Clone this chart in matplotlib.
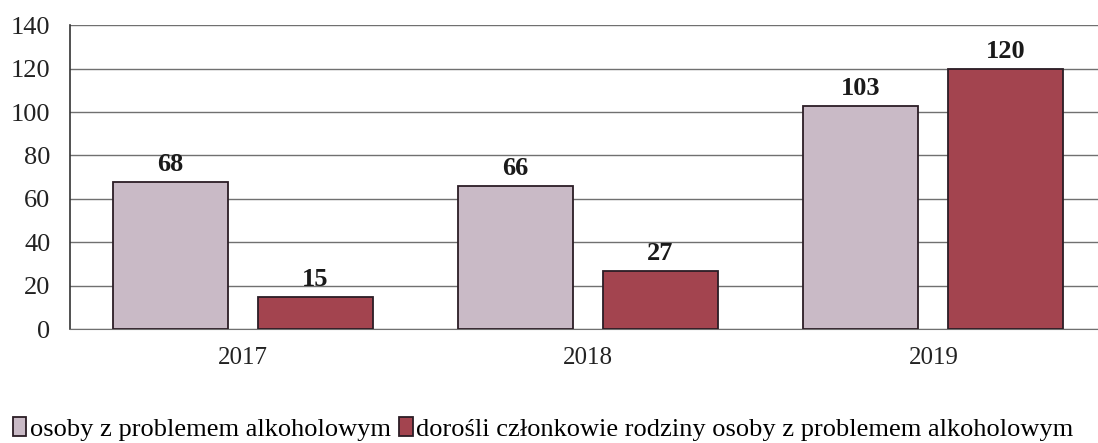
import matplotlib
matplotlib.use('Agg')
from matplotlib import pyplot as plt
import numpy as np

years = ['2017', '2018', '2019']
osoby = [68, 66, 103]
rodzina = [15, 27, 120]
labels = ['osoby z problemem alkoholowym',
          'dorośli członkowie rodziny osoby z problemem alkoholowym']

plt.rcParams['font.family'] = ['Liberation Serif', 'DejaVu Serif']

fig = plt.figure(figsize=(10.98, 4.43), dpi=100)
ax = fig.add_axes([0.0638, 0.257, 0.9435, 0.686])

x = np.arange(len(years))
w = 0.333
gap = 0.087
b1 = ax.bar(x - (w + gap) / 2, osoby, w, color='#c9bac6', edgecolor='#2b1d25',
            linewidth=1.3, label=labels[0], zorder=3)
b2 = ax.bar(x + (w + gap) / 2, rodzina, w, color='#a3444f', edgecolor='#2b1d25',
            linewidth=1.3, label=labels[1], zorder=3)

for bars in (b1, b2):
  for r in bars:
    ax.annotate(str(int(r.get_height())), (r.get_x() + r.get_width() / 2, r.get_height()),
                xytext=(0, 4), textcoords='offset points', ha='center', va='bottom',
                fontsize=19, fontweight='bold', color='#1a1a1a')

ax.set_ylim(0, 140)
ax.set_xlim(-0.5, 2.5)
ax.set_yticks(range(0, 141, 20))
ax.set_xticks(x)
ax.set_xticklabels(years)
ax.tick_params(axis='x', length=0, pad=13, labelsize=18, colors='#222222')
ax.tick_params(axis='y', length=0, pad=14, labelsize=19, colors='#222222')
ax.grid(axis='y', color='#707070', linewidth=1.0, zorder=0)
for s in ('top', 'right'):
  ax.spines[s].set_visible(False)
ax.spines['left'].set_color('#333333')
ax.spines['left'].set_linewidth(1.2)
ax.spines['bottom'].set_color('#707070')

fig.legend(handles=[b1, b2], loc='center', bbox_to_anchor=(0.495, 0.032), ncol=2,
           frameon=False, fontsize=19, handlelength=0.5, handleheight=0.7,
           handletextpad=0.15, columnspacing=0.3, borderpad=0)

fig.savefig('out.png', dpi=100)
plt.close()
